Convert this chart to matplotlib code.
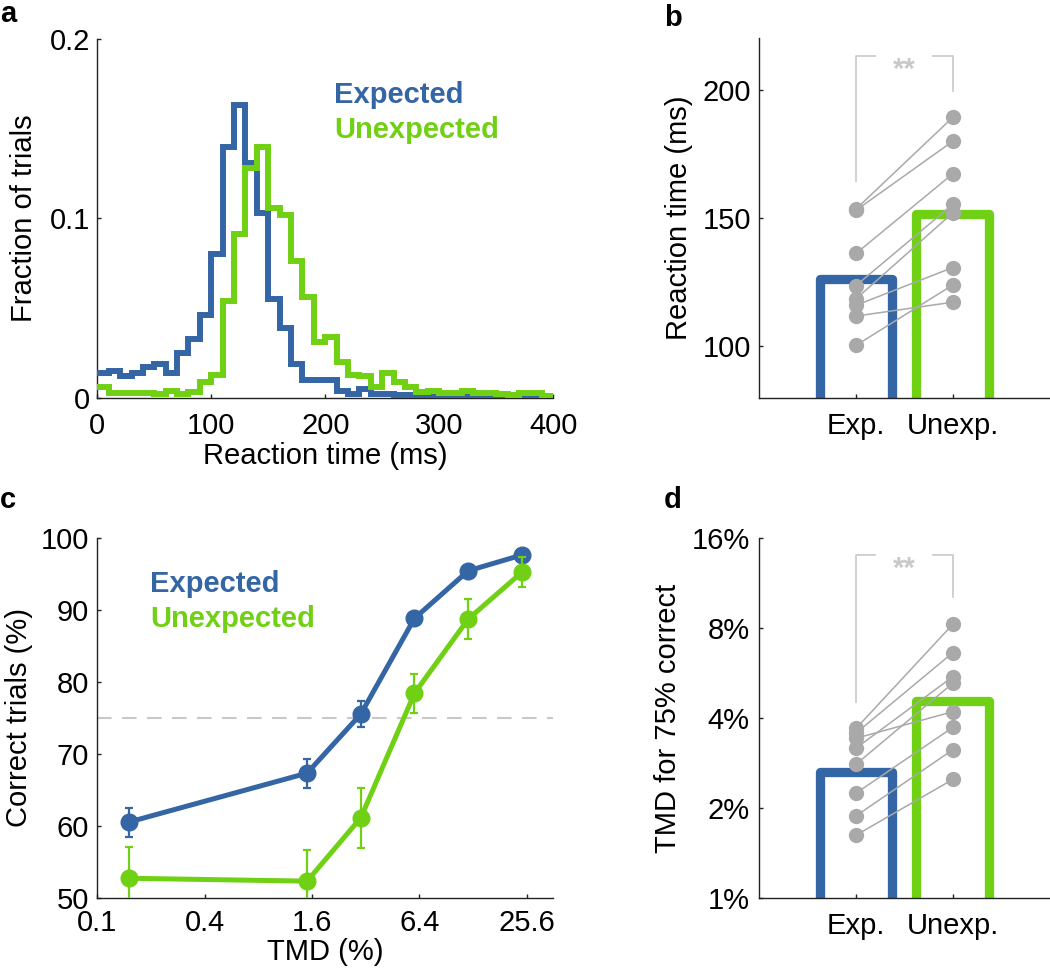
import numpy as np
import matplotlib
matplotlib.use("Agg")
import matplotlib.pyplot as plt
from matplotlib.ticker import FixedLocator, FixedFormatter, NullLocator

plt.rcParams['font.family'] = ['Liberation Sans', 'DejaVu Sans']
plt.rcParams['font.size'] = 21

BLUE = '#3465a4'
GREEN = '#70d014'
GRAY = '#a9a9a9'
LIGHT = '#c8c8c8'

# ---------------- data ----------------
rt_bin_edges = list(range(0, 401, 10))
hist_expected = [0.014, 0.015, 0.012, 0.014, 0.017, 0.019, 0.0135, 0.025, 0.033, 0.046,
                 0.080, 0.140, 0.163, 0.131, 0.103, 0.055, 0.039, 0.019, 0.010, 0.010,
                 0.010, 0.004, 0.002, 0.005, 0.002, 0.002, 0.0015, 0.0015, 0.001, 0.001,
                 0.0015, 0.001, 0.001, 0.001, 0.001, 0.0005, 0.001, 0.0005, 0.0005, 0.0005]
hist_unexpected = [0.006, 0.0024, 0.0024, 0.0024, 0.0024, 0.002, 0.004, 0.002, 0.003, 0.009,
                   0.0125, 0.054, 0.091, 0.128, 0.140, 0.106, 0.102, 0.076, 0.056, 0.031,
                   0.034, 0.020, 0.0125, 0.012, 0.006, 0.0135, 0.009, 0.006, 0.003, 0.004,
                   0.0024, 0.0024, 0.004, 0.0024, 0.0024, 0.002, 0.0015, 0.0024, 0.0024, 0.001]

conditions = ['Exp.', 'Unexp.']
rt_bar = [126.3, 151.6]
rt_expected = [153.5, 153.0, 136.2, 123.7, 118.5, 116.0, 111.8, 100.4]
rt_unexpected = [189.2, 179.9, 167.2, 155.3, 152.0, 130.7, 117.2, 123.9]

tmd_levels = [0.15, 1.5, 3, 6, 12, 24]
correct_expected = [60.5, 67.3, 75.5, 88.8, 95.4, 97.6]
err_expected = [2.0, 2.0, 1.8, 0.8, 0.4, 0.4]
correct_unexpected = [52.7, 52.3, 61.1, 78.4, 88.7, 95.2]
err_unexpected = [4.4, 4.3, 4.2, 2.7, 2.75, 2.1]

thr_bar = [2.64, 4.56]
thr_expected = [3.69, 3.56, 3.42, 3.17, 2.80, 2.24, 1.88, 1.62]
thr_unexpected = [8.24, 6.62, 4.20, 5.50, 5.23, 3.72, 3.13, 2.49]

# ---------------- figure ----------------
W, H = 1050, 971
fig = plt.figure(figsize=(W / 100, H / 100), dpi=100)


def px_axes(left, top, right, bottom):
    return fig.add_axes([left / W, 1 - bottom / H, (right - left) / W, (bottom - top) / H])


def style(ax, xpad=10, ypad=5):
    for s in ['top', 'right']:
        ax.spines[s].set_visible(False)
    for s in ['left', 'bottom']:
        ax.spines[s].set_linewidth(1.0)
        ax.spines[s].set_color('#222222')
    ax.tick_params(direction='in', length=3, width=1, color='#222222', labelsize=21)
    ax.tick_params(axis='x', pad=xpad)
    ax.tick_params(axis='y', pad=ypad)


# ---- panel a ----
axa = px_axes(97.3, 39, 553.3, 397.7)
axa.stairs(hist_expected, rt_bin_edges, baseline=None, color=BLUE, linewidth=4.3, zorder=3)
axa.stairs(hist_unexpected, rt_bin_edges, baseline=None, color=GREEN, linewidth=4.3, zorder=4)
axa.set_xlim(0, 400)
axa.set_ylim(0, 0.2)
axa.set_xticks([0, 100, 200, 300, 400])
axa.set_yticks([0, 0.1, 0.2])
axa.set_yticklabels(['0', '0.1', '0.2'])
style(axa, xpad=10.5, ypad=5)
axa.text(0.52, 0.822, 'Expected', transform=axa.transAxes, color=BLUE,
         fontweight='bold', fontsize=21, va='baseline', ha='left')
axa.text(0.52, 0.723, 'Unexpected', transform=axa.transAxes, color=GREEN,
         fontweight='bold', fontsize=21, va='baseline', ha='left')
fig.text(325.3 / W, 1 - 463.5 / H, 'Reaction time (ms)', ha='center', va='baseline', fontsize=21)
fig.text(24 / W, 1 - 218.4 / H, 'Fraction of trials', ha='center', va='center',
         rotation=90, fontsize=21)


def bar_panel(ax, bars, exp_pts, unexp_pts, bottom):
    xs = [1, 2]
    ax.bar(xs, [b - bottom for b in bars], bottom=bottom, width=0.75, fill=False,
           edgecolor=[BLUE, GREEN], linewidth=6.7, zorder=2, joinstyle='round')
    for e, u in zip(exp_pts, unexp_pts):
        ax.plot([1, 2], [e, u], color=GRAY, linewidth=1.1, zorder=3)
    ax.plot([1] * len(exp_pts), exp_pts, 'o', color=GRAY, markersize=11, zorder=4,
            markeredgewidth=0)
    ax.plot([2] * len(unexp_pts), unexp_pts, 'o', color=GRAY, markersize=11, zorder=4,
            markeredgewidth=0)
    ax.set_xlim(0, 3)
    ax.set_xticks(xs)
    ax.set_xticklabels(conditions)


# ---- panel b ----
axb = px_axes(759.3, 38.3, 1049.5, 397.7)
bar_panel(axb, rt_bar, rt_expected, rt_unexpected, 60)
axb.set_ylim(80, 220)
axb.set_yticks([100, 150, 200])
style(axb, xpad=10, ypad=6)
axb.plot([1, 1, 1.2], [164.3, 213.2, 213.2], color=LIGHT, linewidth=1.2, zorder=1)
axb.plot([1.8, 2, 2], [213.2, 213.2, 199.6], color=LIGHT, linewidth=1.2, zorder=1)
axb.text(1.5, 213.2, '**', ha='center', va='top', color=LIGHT, fontsize=21, fontweight='bold')
fig.text(679 / W, 1 - 218 / H, 'Reaction time (ms)', ha='center', va='center',
         rotation=90, fontsize=21)

# ---- panel c ----
axc = px_axes(97.3, 537.7, 553.3, 897.7)
axc.set_xscale('log', base=2)
axc.axhline(75, color=LIGHT, linewidth=1.5, dashes=(7, 5), zorder=1)
axc.errorbar(tmd_levels, correct_expected, yerr=err_expected, color=BLUE, linewidth=3.6,
             marker='o', markersize=12, elinewidth=1.6, capsize=2.6, capthick=1.6, zorder=3,
             clip_on=True)
axc.errorbar(tmd_levels, correct_unexpected, yerr=err_unexpected, color=GREEN, linewidth=3.6,
             marker='o', markersize=12, elinewidth=1.6, capsize=2.6, capthick=1.6, zorder=4,
             clip_on=True)
axc.set_xlim(0.1, 36)
axc.set_ylim(50, 100)
axc.xaxis.set_major_locator(FixedLocator([0.1, 0.4, 1.6, 6.4, 25.6]))
axc.xaxis.set_major_formatter(FixedFormatter(['0.1', '0.4', '1.6', '6.4', '25.6']))
axc.xaxis.set_minor_locator(NullLocator())
axc.set_yticks([50, 60, 70, 80, 90, 100])
style(axc, xpad=8, ypad=6)
axc.text(0.116, 0.85, 'Expected', transform=axc.transAxes, color=BLUE,
         fontweight='bold', fontsize=21, va='baseline', ha='left')
axc.text(0.116, 0.751, 'Unexpected', transform=axc.transAxes, color=GREEN,
         fontweight='bold', fontsize=21, va='baseline', ha='left')
fig.text(325.7 / W, 1 - 960 / H, 'TMD (%)', ha='center', va='baseline', fontsize=21)
fig.text(19 / W, 1 - 717.7 / H, 'Correct trials (%)', ha='center', va='center',
         rotation=90, fontsize=21)

# ---- panel d ----
axd = px_axes(759.3, 538.3, 1049.5, 897.7)
axd.set_yscale('log', base=2)
bar_panel(axd, thr_bar, thr_expected, thr_unexpected, 0.5)
axd.set_ylim(1, 16)
axd.yaxis.set_major_locator(FixedLocator([1, 2, 4, 8, 16]))
axd.yaxis.set_major_formatter(FixedFormatter(['1%', '2%', '4%', '8%', '16%']))
axd.yaxis.set_minor_locator(NullLocator())
style(axd, xpad=10, ypad=7)
axd.plot([1, 1, 1.2], [4.54, 14.07, 14.07], color=LIGHT, linewidth=1.2, zorder=1)
axd.plot([1.8, 2, 2], [14.07, 14.07, 10.2], color=LIGHT, linewidth=1.2, zorder=1)
axd.text(1.5, 14.07, '**', ha='center', va='top', color=LIGHT, fontsize=21, fontweight='bold')
fig.text(668 / W, 1 - 718 / H, 'TMD for 75% correct', ha='center', va='center',
         rotation=90, fontsize=21)

# panel letters
for letter, x, y in [('a', 0, 22), ('b', 664, 26), ('c', 0, 508), ('d', 664, 508)]:
    fig.text(x / W, 1 - y / H, letter, fontweight='bold', fontsize=21, ha='left', va='baseline')

fig.savefig('out.png', dpi=100)
